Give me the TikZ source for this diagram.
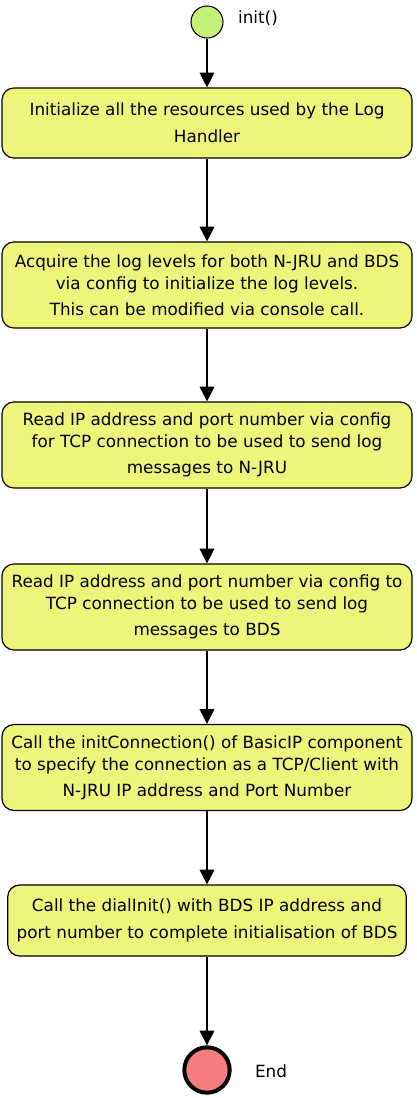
\documentclass[tikz,border=0pt]{standalone}
\usepackage{fontspec}
\setmainfont{DejaVu Sans}
\usepackage{tikz}
\usetikzlibrary{arrows.meta}
\definecolor{boxfill}{RGB}{238,245,122}
\definecolor{initfill}{RGB}{196,240,120}
\definecolor{endfill}{RGB}{245,125,125}
\tikzset{
    stepbox/.style={
        draw=black, fill=boxfill, line width=0.9pt,
        rounded corners=9pt, align=center, inner sep=0pt,
        font=\fontsize{12.6}{16.5}\selectfont
    },
    flow/.style={
        draw, line width=0.9pt, -{Triangle[length=11pt,width=11pt]}
    }
}
\newcommand{\stepBox}[5] {
	\node[stepbox, minimum width=#3, minimum height=#4] (#1) at (207,#2) {#5};
}

\begin{document}
\begin{tikzpicture}[x=0.75pt,y=-0.75pt]
		\useasboundingbox (0,0) rectangle (417,1098);

		% init
		\node[circle, draw, fill=initfill, line width=0.8pt, minimum size=24pt, inner sep=0pt] (init) at (207,22) {};
		\node[font=\fontsize{12.6}{14}\selectfont] (initlabel) at (258,18) {init()};

		% steps
		\stepBox{res}{123}{307.5pt}{52.5pt}{Initialize all the resources used by the Log\\[3.8pt] Handler}
		\stepBox{levels}{285}{307.5pt}{64.5pt}{Acquire the log levels for both N-JRU and BDS\\ via config to initialize the log levels.\\[3pt] This can be modified via console call.}
		\stepBox{njru}{445}{307.5pt}{64.5pt}{Read IP address and port number via config\\ for TCP connection to be used to send log\\[3pt] messages to N-JRU}
		\stepBox{bds}{607}{307.5pt}{64.5pt}{Read IP address and port number via config to\\ TCP connection to be used to send log\\[3pt] messages to BDS}
		\stepBox{conn}{767.5}{307.5pt}{64.5pt}{Call the initConnection() of BasicIP component\\ to specify the connection as a TCP/Client with\\[3pt] N-JRU IP address and Port Number}
		\stepBox{dial}{920.5}{299pt}{53.25pt}{Call the dialInit() with BDS IP address and\\[3.8pt] port number to complete initialisation of BDS}

		% end
		\node[circle, draw, fill=endfill, line width=3pt, minimum size=34pt, inner sep=0pt] (end) at (207,1070) {};
		\node[font=\fontsize{12.6}{14}\selectfont] (endlabel) at (271,1071) {End};

		% arrows
		\draw[flow] (init) -- (res);
		\draw[flow] (res) -- (levels);
		\draw[flow] (levels) -- (njru);
		\draw[flow] (njru) -- (bds);
		\draw[flow] (bds) -- (conn);
		\draw[flow] (conn) -- (dial);
		\draw[flow] (dial) -- (end);

	\end{tikzpicture}
\end{document}
